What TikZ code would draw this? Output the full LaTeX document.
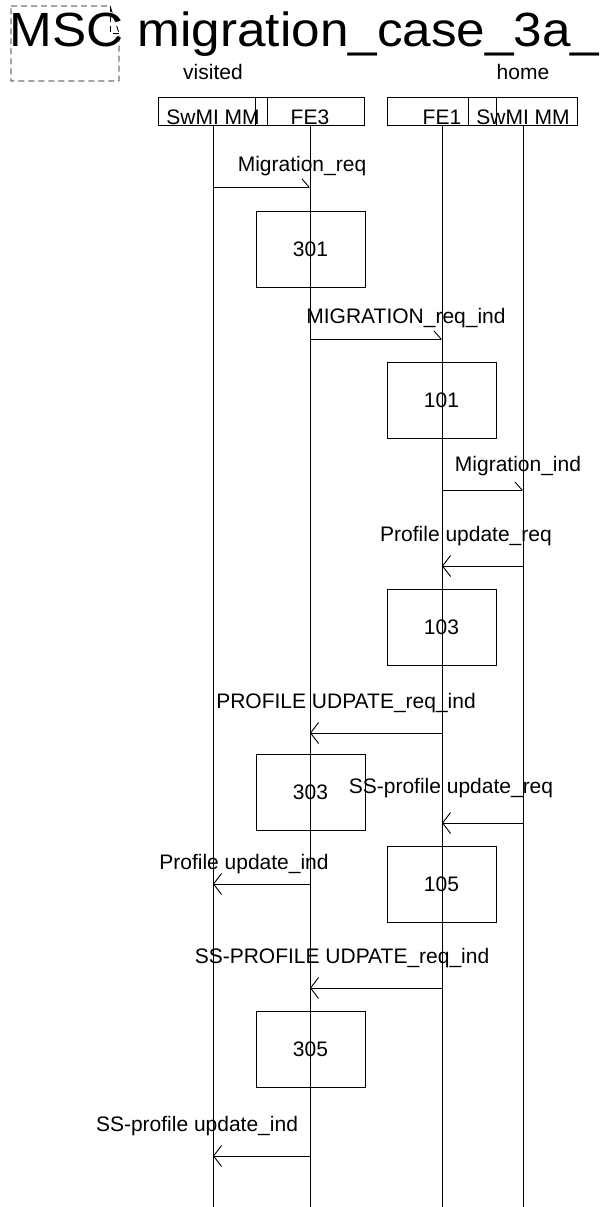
\documentclass[tikz,border=0pt]{standalone}
\usepackage{fontspec}
\setmainfont{Liberation Sans}
\usetikzlibrary{arrows.meta}
\begin{document}
\begin{tikzpicture}[x=1pt,y=-1pt,
  font=\fontsize{21}{21}\selectfont,
  line width=0.9pt,
  lft/.style={-{Straight Barb[length=8pt,width=21pt,line width=0.9pt]}},
  rgt/.style={-{Straight Barb[harpoon,length=7pt,width=16pt,line width=0.9pt]}},
  act/.style={draw, line width=0.9pt, minimum width=109pt, minimum height=76pt, inner sep=0pt},
  hdr/.style={draw, line width=0.9pt, minimum width=109pt, minimum height=28pt, inner sep=0pt},
  lbl/.style={anchor=base, inner sep=0pt},
  frame/.style={draw, line width=0.9pt, dash pattern=on 6pt off 4pt}]
\useasboundingbox (0,0) rectangle (605,1207);

% frame and title
\draw[frame] (11,6) -- (110,6) -- (119,33) -- (119,81) -- (11,81) -- cycle;
\draw[frame] (110,6) -- (110,33) -- (119,33);
\node[anchor=base west, inner sep=0pt, font=\fontsize{48}{48}\selectfont] (title) at (9.2,46.5) {\scalebox{1.068}[1]{MSC migration\_case\_3a\_}};

\node[lbl] (vis) at (213,80) {visited};
\node[lbl] (home) at (523,80) {home};

% instance heads
\node[hdr] (hv) at (213,111) {};
\node[hdr] (hf3) at (310,111) {};
\node[hdr] (hf1) at (442,111) {};
\node[hdr] (hh) at (523,111) {};
\node[lbl] (hvt) at (213,124) {SwMI MM};
\node[lbl] (hf3t) at (310,124) {FE3};
\node[lbl] (hf1t) at (442,124) {FE1};
\node[lbl] (hht) at (523,124) {SwMI MM};

% lifelines
\coordinate (lv) at (213,1207);
\coordinate (lf3) at (310,1207);
\coordinate (lf1) at (442,1207);
\coordinate (lh) at (523,1207);
\draw (hv.south) -- (lv);
\draw (hf3.south) -- (lf3);
\draw (hf1.south) -- (lf1);
\draw (hh.south) -- (lh);

% actions
\node[act] (a301) at (310.5,249) {301};
\node[act] (a101) at (441.5,400) {101};
\node[act] (a103) at (441.5,627) {103};
\node[act] (a303) at (310.5,792) {303};
\node[act] (a105) at (441.5,884) {105};
\node[act] (a305) at (310.5,1049.5) {305};

% messages
\coordinate (m1a) at (213,187); \coordinate (m1b) at (310,187);
\draw[rgt] (m1a) -- (m1b);
\node[lbl] (t1) at (302,171) {Migration\_req};

\coordinate (m2a) at (310,339); \coordinate (m2b) at (442,339);
\draw[rgt] (m2a) -- (m2b);
\node[lbl] (t2) at (406,323) {MIGRATION\_req\_ind};

\coordinate (m3a) at (442,490); \coordinate (m3b) at (523,490);
\draw[rgt] (m3a) -- (m3b);
\node[lbl] (t3) at (518,471) {Migration\_ind};

\coordinate (m4a) at (523,566); \coordinate (m4b) at (442,566);
\draw[lft] (m4a) -- (m4b);
\node[lbl] (t4) at (466,541) {Profile update\_req};

\coordinate (m5a) at (442,733); \coordinate (m5b) at (310,733);
\draw[lft] (m5a) -- (m5b);
\node[lbl] (t5) at (346,708) {PROFILE UDPATE\_req\_ind};

\coordinate (m6a) at (523,823); \coordinate (m6b) at (442,823);
\draw[lft] (m6a) -- (m6b);
\node[lbl] (t6) at (451,793) {SS-profile update\_req};

\coordinate (m7a) at (310,884); \coordinate (m7b) at (213,884);
\draw[lft] (m7a) -- (m7b);
\node[lbl] (t7) at (244,869) {Profile update\_ind};

\coordinate (m8a) at (442,988); \coordinate (m8b) at (310,988);
\draw[lft] (m8a) -- (m8b);
\node[lbl] (t8) at (342,963) {SS-PROFILE UDPATE\_req\_ind};

\coordinate (m9a) at (310,1156); \coordinate (m9b) at (213,1156);
\draw[lft] (m9a) -- (m9b);
\node[lbl] (t9) at (197,1131) {SS-profile update\_ind};
\end{tikzpicture}
\end{document}
